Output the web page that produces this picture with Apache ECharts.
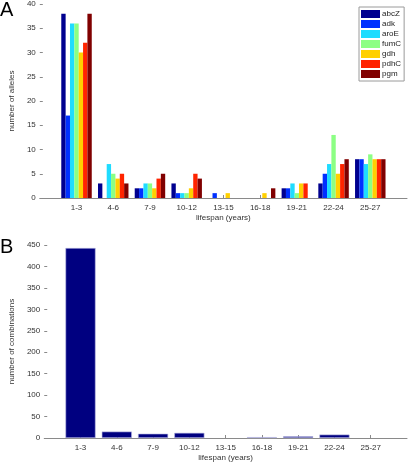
<!DOCTYPE html>
<html><head><meta charset="utf-8">
<script src="https://cdn.jsdelivr.net/npm/echarts@6/dist/echarts.min.js"></script>
<style>html,body{margin:0;padding:0;background:#fff}#c{width:410px;height:463px}</style>
</head><body><div id="c"></div>
<script>
const categories = ['1-3','4-6','7-9','10-12','13-15','16-18','19-21','22-24','25-27'];
const genes = ['abcZ','adk','aroE','fumC','gdh','pdhC','pgm'];
const geneColors = ['#00008f','#0030ff','#1fdcff','#8cff84','#ffd000','#ff2400','#800000'];
const abcZ = [38,3,2,3,0,0,2,3,8];
const adk  = [17,0,2,1,1,0,2,5,8];
const aroE = [36,7,3,1,0,0,3,7,7];
const fumC = [36,5,3,1,0,0,1,13,9];
const gdh  = [30,4,2,2,1,1,3,5,8];
const pdhC = [32,5,4,5,0,0,3,7,8];
const pgm  = [38,3,5,4,0,2,0,8,8];
const combinations = [443,15,10,12,0,2,4,8,0];
const allelesTicks = [0,40,5];
const comboTicks = [0,450,50];

const geneData = [abcZ,adk,aroE,fumC,gdh,pdhC,pgm];
const padCats = [''].concat(categories, ['']);
const pad = arr => ['-'].concat(arr.map(v => v === 0 ? '-' : v), ['-']);

const font = 'Liberation Sans, Arial, sans-serif';
const axisCommon = {
  axisLine: {lineStyle: {color: '#8a8a8a', width: 1}},
  axisLabel: {color: '#333', fontSize: 8, fontFamily: font},
  splitLine: {show: false},
  nameTextStyle: {color: '#333', fontSize: 8, fontFamily: font}
};
function xAxis(gi) {
  return Object.assign({}, axisCommon, {
    type: 'category', gridIndex: gi, data: padCats, boundaryGap: false,
    axisTick: {inside: true, length: 3, interval: (i) => i > 0 && i < padCats.length - 1, lineStyle: {color: '#8a8a8a'}},
    axisLabel: Object.assign({}, axisCommon.axisLabel, {interval: 0, margin: 6}),
    name: 'lifespan (years)', nameLocation: 'middle', nameGap: 16
  });
}
function yAxis(gi, t, name, gap) {
  return Object.assign({}, axisCommon, {
    type: 'value', gridIndex: gi, min: t[0], max: t[1], interval: t[2],
    axisTick: {show: true, inside: true, length: 3, lineStyle: {color: '#8a8a8a'}},
    axisLabel: Object.assign({}, axisCommon.axisLabel, {margin: 4}),
    name: name, nameLocation: 'middle', nameGap: gap, nameRotate: 90
  });
}

const series = genes.map((g, i) => ({
  name: g, type: 'bar', xAxisIndex: 0, yAxisIndex: 0,
  data: pad(geneData[i]), barGap: '0%', barCategoryGap: '17%',
  itemStyle: {color: geneColors[i]}, animation: false
}));
series.push({
  name: 'combinations', type: 'bar', xAxisIndex: 1, yAxisIndex: 1,
  data: pad(combinations), barCategoryGap: '17%',
  itemStyle: {color: '#000080', borderColor: '#b8b8e0', borderWidth: 0.6}, animation: false
});

const chart = echarts.init(document.getElementById('c'), null, {renderer: 'canvas'});
chart.setOption({
  backgroundColor: '#fff',
  animation: false,
  grid: [
    {left: 33, right: 2, top: 3, height: 195, containLabel: false},
    {left: 32, right: 1, top: 245, height: 195, containLabel: false}
  ],
  xAxis: [xAxis(0), xAxis(1)],
  yAxis: [yAxis(0, allelesTicks, 'number of alleles', 20), yAxis(1, comboTicks, 'number of combinations', 22)],
  legend: {
    data: genes, orient: 'vertical', left: 359, top: 7,
    itemWidth: 19, itemHeight: 8, itemGap: 2, padding: [3, 3, 3, 2],
    icon: 'rect', borderColor: '#9a9a9a', borderWidth: 1, backgroundColor: '#fff',
    textStyle: {fontSize: 8, color: '#222', fontFamily: font, padding: [0, 0, 0, -3]},
    selectedMode: false
  },
  graphic: [
    {type: 'text', left: 0, top: 0, style: {text: 'A', font: '20px ' + font, fill: '#000'}},
    {type: 'text', left: 0, top: 237, style: {text: 'B', font: '20px ' + font, fill: '#000'}}
  ],
  series: series
});
</script></body></html>
